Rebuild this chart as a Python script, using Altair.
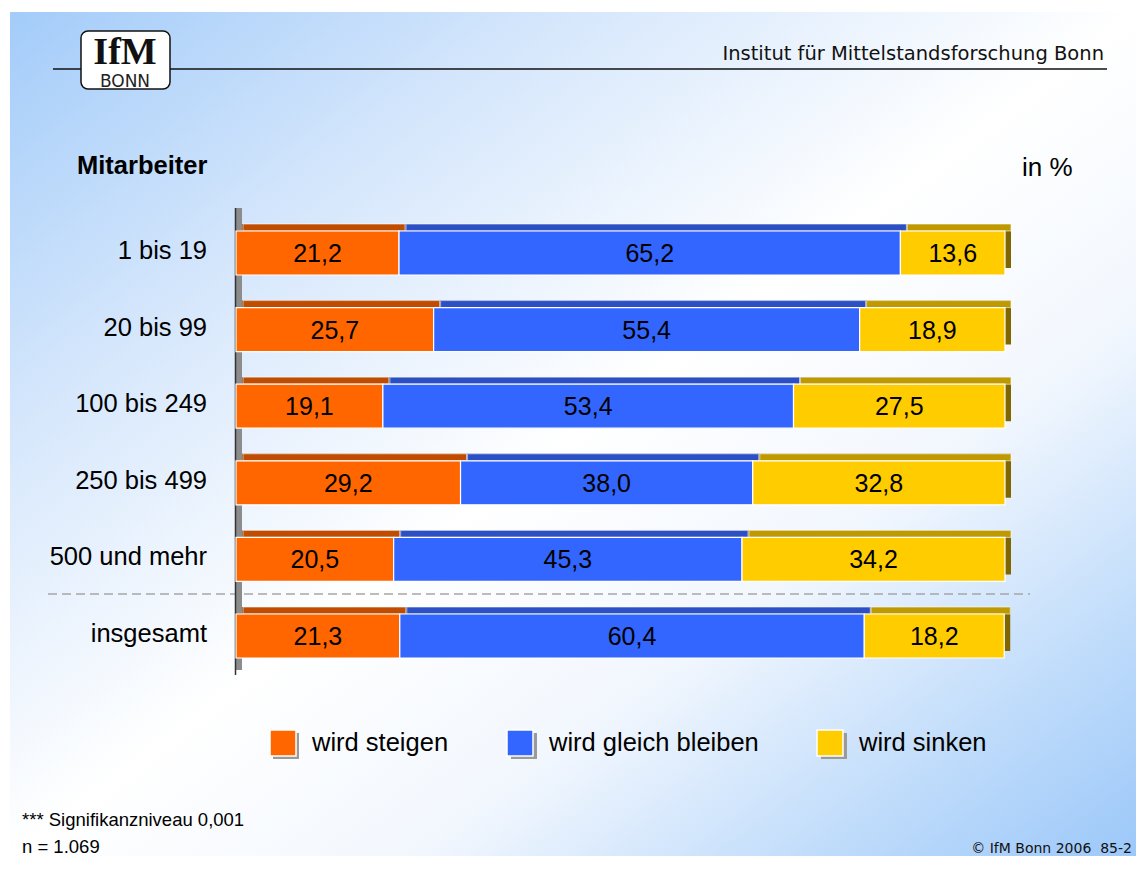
import altair as alt
import pandas as pd

# ---------------- data ----------------
categories = ["1 bis 19", "20 bis 99", "100 bis 249", "250 bis 499", "500 und mehr", "insgesamt"]
series = ["wird steigen", "wird gleich bleiben", "wird sinken"]
steigen = [21.2, 25.7, 19.1, 29.2, 20.5, 21.3]
gleich = [65.2, 55.4, 53.4, 38.0, 45.3, 60.4]
sinken = [13.6, 18.9, 27.5, 32.8, 34.2, 18.2]

front_colors = ["#FF6600", "#3366FF", "#FFCC00"]
top_colors = ["#BF4C00", "#2C4FC4", "#BF9900"]
side_colors = ["#804000", "#1E3590", "#806600"]
shadow_color = "#9A9A9A"

rows = []
for i, cat in enumerate(categories):
    start = 0.0
    for j, vals in enumerate([steigen, gleich, sinken]):
        v = vals[i]
        rows.append({
            "cat": cat,
            "series": series[j],
            "value": v,
            "start": start,
            "end": start + v,
            "mid": start + v / 2,
            "label": f"{v:.1f}".replace(".", ","),
        })
        start += v
df = pd.DataFrame(rows)

W, H = 1128, 848
FONT = "Liberation Sans"
one = alt.Data(values=[{}])

xscale = alt.Scale(domain=[0, 100], range=[228, 997])
yscale = alt.Scale(domain=categories, range=[206.7, 666.3], paddingInner=0, paddingOuter=0)
X0 = alt.X("start:Q", scale=xscale, axis=None)
X1 = alt.X2("end:Q")
Y = alt.Y("cat:N", scale=yscale, axis=None)


def legend_props(lx, ly, **extra):
    props = dict(
        title=None, orient="none", legendX=lx, legendY=ly,
        direction="horizontal", symbolType="square", symbolSize=676,
        symbolOpacity=1, labelFont=FONT, labelFontSize=25.5, labelColor="black",
        labelOffset=15, columnPadding=55, padding=0, labelLimit=400,
    )
    props.update(extra)
    return alt.Legend(**props)


# ---------------- background & decoration ----------------
grad = alt.Gradient(
    gradient="linear",
    stops=[
        alt.GradientStop(offset=0.0, color="#A3CCF9"),
        alt.GradientStop(offset=0.25, color="#D6E7FC"),
        alt.GradientStop(offset=0.5, color="#FFFFFF"),
        alt.GradientStop(offset=0.68, color="#F2F7FE"),
        alt.GradientStop(offset=0.85, color="#C2DDFB"),
        alt.GradientStop(offset=1.0, color="#9CC8F9"),
    ],
    x1=0, y1=0, x2=1, y2=1,
)
bg = alt.Chart(one).mark_rect(color=grad).encode(
    x=alt.value(2), x2=alt.value(W), y=alt.value(4), y2=alt.value(H)
)

header_line = alt.Chart(one).mark_rule(color="#111111", strokeWidth=1.5).encode(
    x=alt.value(45), x2=alt.value(1099), y=alt.value(61)
)
logo_box = alt.Chart(one).mark_rect(
    fill="white", stroke="#111111", strokeWidth=1.5, cornerRadius=7
).encode(x=alt.value(73), x2=alt.value(162), y=alt.value(23), y2=alt.value(81))
logo_ifm = alt.Chart(one).mark_text(
    text="IfM", font="Liberation Serif", fontSize=38, fontWeight="bold",
    align="center", baseline="alphabetic", color="#111111"
).encode(x=alt.value(117), y=alt.value(55.5))
logo_bonn = alt.Chart(one).mark_text(
    text="BONN", font="DejaVu Sans", fontSize=17, align="center", baseline="alphabetic",
    color="#222222"
).encode(x=alt.value(117), y=alt.value(79))

inst = alt.Chart(one).mark_text(
    text="Institut für Mittelstandsforschung Bonn", font="DejaVu Sans", fontSize=19.5,
    align="right", baseline="alphabetic", color="#111111"
).encode(x=alt.value(1096), y=alt.value(52))
mitarb = alt.Chart(one).mark_text(
    text="Mitarbeiter", font=FONT, fontSize=25.5, fontWeight="bold",
    align="left", baseline="alphabetic", color="black"
).encode(x=alt.value(69), y=alt.value(166))
inpct = alt.Chart(one).mark_text(
    text="in %", font=FONT, fontSize=26, align="left", baseline="alphabetic", color="black"
).encode(x=alt.value(1014), y=alt.value(168))

dashed = alt.Chart(one).mark_rule(color="#A6A6A6", strokeWidth=1.5, strokeDash=[9, 5]).encode(
    x=alt.value(40), x2=alt.value(1022), y=alt.value(586)
)
axis_strip = alt.Chart(one).mark_rule(color="#8C8C8C", strokeWidth=6).encode(
    x=alt.value(231), y=alt.value(200), y2=alt.value(662)
)
axis_line = alt.Chart(one).mark_rule(color="#333333", strokeWidth=1.5).encode(
    x=alt.value(227.5), y=alt.value(200), y2=alt.value(667)
)

# ---------------- bars ----------------
base = alt.Chart(df)

# grey legend shadows: one single-entry legend per series, no marks drawn
shadow_x = [265, 503, 813]
shadows = []
for j, s in enumerate(series):
    shadows.append(
        base.transform_filter("false").mark_bar(size=44).encode(
            x=X0, x2=X1, y=Y,
            color=alt.Color(
                "series:N",
                scale=alt.Scale(domain=[s], range=[shadow_color]),
                legend=legend_props(shadow_x[j], 725, labelExpr="''", symbolStrokeWidth=0),
            ),
        )
    )

side = base.mark_bar(size=44, xOffset=6, x2Offset=6, yOffset=-7).encode(
    x=X0, x2=X1, y=Y,
    color=alt.Color("series:N", scale=alt.Scale(domain=series, range=side_colors), legend=None),
)
top = base.mark_bar(size=7, xOffset=7, x2Offset=6, yOffset=-25.5,
                    stroke="white", strokeWidth=0.6).encode(
    x=X0, x2=X1, y=Y,
    color=alt.Color("series:N", scale=alt.Scale(domain=series, range=top_colors), legend=None),
)
front = base.mark_bar(size=44, stroke="white", strokeWidth=1.2).encode(
    x=X0, x2=X1, y=Y,
    color=alt.Color(
        "series:N",
        scale=alt.Scale(domain=series, range=front_colors),
        legend=legend_props(261, 721, symbolStrokeColor="white", symbolStrokeWidth=1.5),
    ),
)
values = base.mark_text(font=FONT, fontSize=25, color="black", baseline="middle", dy=1).encode(
    x=alt.X("mid:Q", scale=xscale, axis=None), y=Y, text="label:N"
)
cat_df = pd.DataFrame({"cat": categories})
cat_labels = alt.Chart(cat_df).mark_text(
    font=FONT, fontSize=25.5, color="black", align="right", baseline="middle", dy=-2
).encode(x=alt.value(199), y=Y, text="cat:N")

# ---------------- footer ----------------
sig = alt.Chart(one).mark_text(
    text="*** Signifikanzniveau 0,001", font=FONT, fontSize=18.5,
    align="left", baseline="alphabetic", color="black"
).encode(x=alt.value(14), y=alt.value(818))
nn = alt.Chart(one).mark_text(
    text="n = 1.069", font=FONT, fontSize=18.5, align="left", baseline="alphabetic", color="black"
).encode(x=alt.value(14), y=alt.value(845))
copy = alt.Chart(one).mark_text(
    text="© IfM Bonn 2006\u00a0\u00a085-2", font="DejaVu Sans", fontSize=14,
    align="right", baseline="alphabetic", color="#111111"
).encode(x=alt.value(1124), y=alt.value(845))

chart = alt.layer(
    bg, *shadows, header_line, logo_box, logo_ifm, logo_bonn, inst, mitarb, inpct,
    dashed, axis_strip, axis_line, side, top, front, values, cat_labels,
    sig, nn, copy,
).resolve_scale(color="independent").properties(
    width=W, height=H, padding=0, autosize=alt.AutoSizeParams(type="none")
).configure_view(strokeWidth=0)

chart.save("out.html", embed_options={"renderer": "svg", "actions": False})
